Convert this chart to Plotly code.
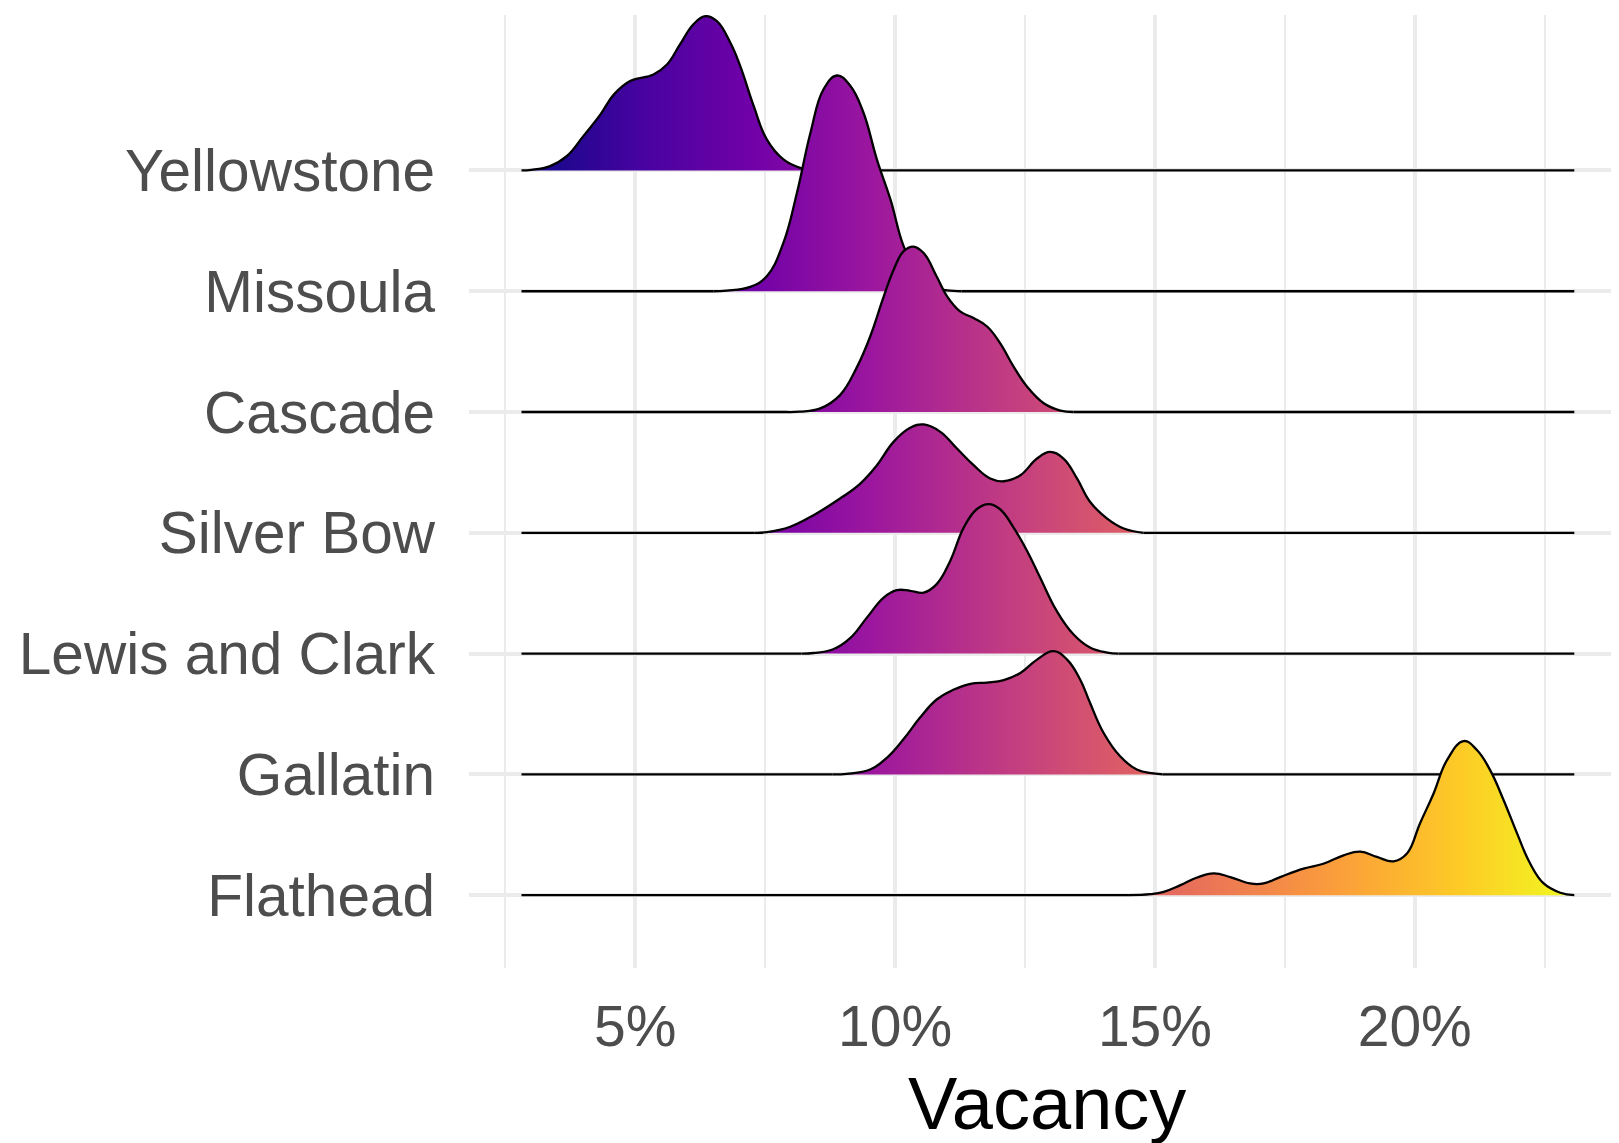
import plotly.graph_objects as go
import plotly.express as px

# Counties, bottom row first
counties = ["Flathead", "Gallatin", "Lewis and Clark", "Silver Bow", "Cascade", "Missoula", "Yellowstone"]

# Vacancy (%) points and ridge heights (row units); outside these the density is 0
yellowstone_x = [2.81, 3.0, 3.36, 3.68, 4.00, 4.33, 4.59, 4.90, 5.35, 5.61, 5.86, 6.12, 6.35, 6.57, 6.83, 7.02, 7.28, 7.53, 7.85, 8.17, 8.5, 8.9]
yellowstone_d = [0, 0.005, 0.036, 0.118, 0.284, 0.464, 0.63, 0.74, 0.795, 0.877, 1.043, 1.21, 1.277, 1.236, 1.057, 0.863, 0.532, 0.257, 0.091, 0.022, 0.004, 0]

missoula_x = [6.5, 6.76, 7.21, 7.53, 7.85, 8.11, 8.37, 8.62, 8.88, 9.14, 9.39, 9.65, 9.91, 10.16, 10.4, 10.6, 10.8, 11.0, 11.28]
missoula_d = [0, 0.005, 0.036, 0.124, 0.40, 0.813, 1.31, 1.67, 1.786, 1.70, 1.48, 1.09, 0.76, 0.377, 0.17, 0.06, 0.02, 0.008, 0]

cascade_x = [7.9, 8.17, 8.56, 8.94, 9.27, 9.52, 9.78, 9.97, 10.16, 10.35, 10.55, 10.80, 11.00, 11.25, 11.51, 11.77, 12.02, 12.28, 12.54, 12.86, 13.18, 13.43]
cascade_d = [0, 0.003, 0.03, 0.14, 0.376, 0.625, 0.955, 1.176, 1.33, 1.37, 1.316, 1.122, 0.957, 0.833, 0.778, 0.708, 0.571, 0.376, 0.21, 0.073, 0.012, 0]

silver_bow_x = [7.3, 7.53, 7.98, 8.43, 8.94, 9.33, 9.65, 9.97, 10.29, 10.55, 10.87, 11.19, 11.51, 11.83, 12.09, 12.41, 12.73, 12.98, 13.24, 13.50, 13.75, 14.08, 14.40, 14.78]
silver_bow_d = [0, 0.005, 0.05, 0.146, 0.284, 0.408, 0.56, 0.753, 0.869, 0.897, 0.836, 0.698, 0.56, 0.45, 0.427, 0.477, 0.615, 0.67, 0.615, 0.45, 0.257, 0.118, 0.036, 0]

lewis_clark_x = [8.2, 8.43, 8.81, 9.14, 9.46, 9.78, 10.03, 10.29, 10.55, 10.80, 11.06, 11.32, 11.57, 11.80, 12.02, 12.28, 12.54, 12.79, 13.11, 13.43, 13.75, 14.08, 14.3]
lewis_clark_d = [0, 0.005, 0.036, 0.13, 0.30, 0.464, 0.525, 0.52, 0.505, 0.575, 0.767, 1.043, 1.195, 1.237, 1.195, 1.043, 0.85, 0.63, 0.353, 0.16, 0.05, 0.008, 0]

gallatin_x = [8.8, 9.07, 9.52, 9.84, 10.16, 10.48, 10.80, 11.12, 11.45, 11.77, 12.09, 12.41, 12.73, 13.05, 13.31, 13.56, 13.75, 14.01, 14.33, 14.65, 14.97, 15.15]
gallatin_d = [0, 0.005, 0.04, 0.137, 0.29, 0.47, 0.62, 0.70, 0.75, 0.76, 0.78, 0.84, 0.95, 1.02, 0.95, 0.786, 0.593, 0.345, 0.15, 0.04, 0.008, 0]

flathead_x = [14.5, 14.91, 15.17, 15.49, 15.81, 16.13, 16.45, 16.83, 17.09, 17.41, 17.86, 18.24, 18.63, 18.95, 19.27, 19.59, 19.85, 20.10, 20.36, 20.62, 20.94, 21.20, 21.45, 21.71, 21.97, 22.22, 22.48, 22.80, 23.07]
flathead_d = [0, 0.008, 0.028, 0.083, 0.146, 0.18, 0.15, 0.097, 0.097, 0.15, 0.22, 0.26, 0.33, 0.36, 0.317, 0.28, 0.345, 0.594, 0.84, 1.118, 1.276, 1.20, 1.035, 0.786, 0.51, 0.262, 0.097, 0.02, 0]

# overall data range of Vacancy (%)
x_data_range = [2.81, 23.07]

x_tick_vals = [5, 10, 15, 20]
x_tick_text = ["5%", "10%", "15%", "20%"]
x_minor_vals = [2.5, 7.5, 12.5, 17.5, 22.5]

ridges = {
    "Yellowstone": (yellowstone_x, yellowstone_d),
    "Missoula": (missoula_x, missoula_d),
    "Cascade": (cascade_x, cascade_d),
    "Silver Bow": (silver_bow_x, silver_bow_d),
    "Lewis and Clark": (lewis_clark_x, lewis_clark_d),
    "Gallatin": (gallatin_x, gallatin_d),
    "Flathead": (flathead_x, flathead_d),
}

X_MIN, X_MAX = x_data_range
plasma = px.colors.sequential.Plasma
plasma_scale = [[i / (len(plasma) - 1), c] for i, c in enumerate(plasma)]
LINE_W = 2.3
SMOOTH = 1.2

fig = go.Figure()
for name in reversed(counties):  # top row drawn first, lower rows overlay
    base = counties.index(name) + 1
    xs, ds = ridges[name]
    top = [base + d for d in ds]
    # invisible baseline under the bump (fill target)
    fig.add_trace(go.Scatter(
        x=[xs[0], xs[-1]], y=[base, base], mode="lines",
        line=dict(width=0), hoverinfo="skip", showlegend=False,
    ))
    fig.add_trace(go.Scatter(
        x=xs, y=top, mode="lines", fill="tonexty",
        fillgradient=dict(type="horizontal", colorscale=plasma_scale, start=X_MIN, stop=X_MAX),
        line=dict(color="black", width=LINE_W, shape="spline", smoothing=SMOOTH),
        hoverinfo="skip", showlegend=False,
    ))
    # zero-density tails of the outline
    for seg in ([X_MIN, xs[0]], [xs[-1], X_MAX]):
        if seg[1] > seg[0]:
            fig.add_trace(go.Scatter(
                x=seg, y=[base, base], mode="lines",
                line=dict(color="black", width=LINE_W),
                hoverinfo="skip", showlegend=False,
            ))

FONT = "Liberation Sans, Arial, sans-serif"
fig.update_layout(
    width=1619, height=1143,
    margin=dict(l=461, r=8, t=7, b=183),
    paper_bgcolor="white", plot_bgcolor="white",
    font=dict(family=FONT),
    xaxis=dict(
        range=[1.80, 23.93], tickvals=x_tick_vals, ticktext=x_tick_text,
        showgrid=True, gridcolor="#EBEBEB", gridwidth=3.5,
        minor=dict(tickvals=x_minor_vals, showgrid=True, gridcolor="#EBEBEB", gridwidth=1.8),
        zeroline=False, showline=False, ticks="",
        tickfont=dict(size=57, color="#4D4D4D", family=FONT),
        ticklabelstandoff=20,
    ),
    yaxis=dict(
        range=[0.397, 8.287], tickvals=list(range(1, len(counties) + 1)), ticktext=counties,
        showgrid=True, gridcolor="#EBEBEB", gridwidth=3.5,
        zeroline=False, showline=False, ticks="",
        tickfont=dict(size=58.5, color="#4D4D4D", family=FONT),
        ticklabelstandoff=33,
    ),
    annotations=[dict(
        text="Vacancy", x=0.5027, y=-0.142, xref="paper", yref="paper",
        xanchor="center", yanchor="middle", showarrow=False,
        font=dict(size=74, color="black", family=FONT),
    )],
)

fig.write_html("out.html")
